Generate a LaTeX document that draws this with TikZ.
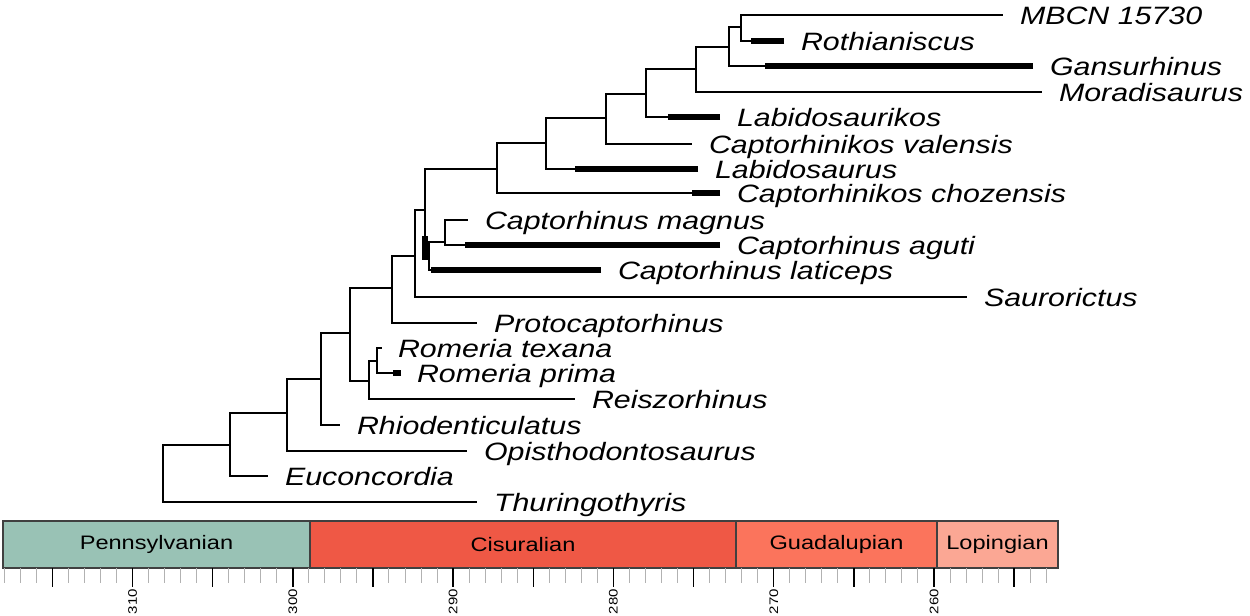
\documentclass[tikz,border=0pt]{standalone}
\usepackage{fontspec}
\setmainfont{Liberation Sans}[FakeStretch=1.21]
\usetikzlibrary{positioning}

\definecolor{penn}{HTML}{99C2B5}
\definecolor{cisu}{HTML}{EF5845}
\definecolor{guad}{HTML}{FB745C}
\definecolor{lopi}{HTML}{FBA794}

\tikzset{
  branch/.style={draw=black, line width=1.15pt},
  strap/.style={draw=black, line width=2.6pt},
  taxon/.style={font=\fontsize{12.55}{14}\selectfont\itshape, inner sep=0,
    text height=9pt, text depth=0pt},
  period/.style={draw=black!75, line width=0.6pt, inner sep=0,
    minimum height=23.5pt, anchor=north west,
    font=\fontsize{9.75}{11}\selectfont},
  minortick/.style={draw=black!30, line width=0.5pt},
  majortick/.style={draw=black, line width=0.7pt},
  ticklabel/.style={font=\fontsize{6.2}{7}\selectfont, inner sep=0,
    text depth=0pt, rotate=90, anchor=east}
}

\begin{document}
\begin{tikzpicture}[x=0.5pt, y=-0.5pt, inner sep=0, outer sep=0]
  \useasboundingbox (0,0) rectangle (1250,616);

  % internal nodes
  \coordinate (root) at (163,474);
  \coordinate (nA) at (230,445);
  \coordinate (nB) at (287,413);
  \coordinate (nC) at (321,379);
  \coordinate (nD) at (350,333);
  \coordinate (nE) at (369,381);
  \coordinate (nF) at (377,361);
  \coordinate (nG) at (392,288);
  \coordinate (nH) at (415,256);
  \coordinate (nI) at (425,210);
  \coordinate (nR) at (429,255);
  \coordinate (nQ) at (445,242);
  \coordinate (nJ) at (497,169);
  \coordinate (nK) at (546,143);
  \coordinate (nL) at (606,118);
  \coordinate (nM) at (646,94);
  \coordinate (nN) at (696,69);
  \coordinate (nO) at (729,47);
  \coordinate (nP) at (741,27);

  % tips
  \coordinate (tMBCN) at (1003,15);
  \coordinate (tRoth) at (784,41);
  \coordinate (tGans) at (1033,66);
  \coordinate (tMora) at (1042,92);
  \coordinate (tLabk) at (720,117);
  \coordinate (tCval) at (692,144);
  \coordinate (tLabs) at (698,169);
  \coordinate (tCchz) at (720,193);
  \coordinate (tCmag) at (468,220);
  \coordinate (tCagu) at (720,245);
  \coordinate (tClat) at (601,270);
  \coordinate (tSaur) at (967,297);
  \coordinate (tProt) at (477,323);
  \coordinate (tRomT) at (382,348);
  \coordinate (tRomP) at (401,373);
  \coordinate (tReis) at (575,399);
  \coordinate (tRhio) at (340,425);
  \coordinate (tOpis) at (467,451);
  \coordinate (tEuco) at (268,476);
  \coordinate (tThur) at (477,502);

  % branches
  \draw[branch] (root) |- (nA);
  \draw[branch] (root) |- (tThur);
  \draw[branch] (nA) |- (nB);
  \draw[branch] (nA) |- (tEuco);
  \draw[branch] (nB) |- (nC);
  \draw[branch] (nB) |- (tOpis);
  \draw[branch] (nC) |- (nD);
  \draw[branch] (nC) |- (tRhio);
  \draw[branch] (nD) |- (nG);
  \draw[branch] (nD) |- (nE);
  \draw[branch] (nE) |- (nF);
  \draw[branch] (nE) |- (tReis);
  \draw[branch] (nF) |- (tRomT);
  \draw[branch] (nF) |- (tRomP);
  \draw[branch] (nG) |- (nH);
  \draw[branch] (nG) |- (tProt);
  \draw[branch] (nH) |- (nI);
  \draw[branch] (nH) |- (tSaur);
  \draw[branch] (nI) |- (nJ);
  \draw[branch] (nI) |- (nR);
  \draw[branch] (nR) |- (nQ);
  \draw[branch] (nR) |- (tClat);
  \draw[branch] (nQ) |- (tCmag);
  \draw[branch] (nQ) |- (tCagu);
  \draw[branch] (nJ) |- (nK);
  \draw[branch] (nJ) |- (tCchz);
  \draw[branch] (nK) |- (nL);
  \draw[branch] (nK) |- (tLabs);
  \draw[branch] (nL) |- (nM);
  \draw[branch] (nL) |- (tCval);
  \draw[branch] (nM) |- (nN);
  \draw[branch] (nM) |- (tLabk);
  \draw[branch] (nN) |- (nO);
  \draw[branch] (nN) |- (tMora);
  \draw[branch] (nO) |- (nP);
  \draw[branch] (nO) |- (tGans);
  \draw[branch] (nP) |- (tMBCN);
  \draw[branch] (nP) |- (tRoth);

  % stratigraphic ranges
  \draw[strap] (tRoth) -- ++(-33,0);
  \draw[strap] (tGans) -- ++(-268,0);
  \draw[strap] (tLabk) -- ++(-52,0);
  \draw[strap] (tLabs) -- ++(-123,0);
  \draw[strap] (tCchz) -- ++(-28,0);
  \draw[strap] (tCagu) -- ++(-255,0);
  \draw[strap] (tClat) -- ++(-170,0);
  \draw[strap] (tRomP) -- ++(-8,0);
  \draw[strap] ([yshift=9.5pt]nR -| nI) -- ([yshift=-2.5pt]nR -| nI);

  % taxon names
  \node[taxon, right=8.5pt of tMBCN] (lMBCN) {MBCN 15730};
  \node[taxon, right=8.5pt of tRoth] (lRoth) {Rothianiscus};
  \node[taxon, right=8.5pt of tGans] (lGans) {Gansurhinus};
  \node[taxon, right=8.5pt of tMora] (lMora) {Moradisaurus};
  \node[taxon, right=8.5pt of tLabk] (lLabk) {Labidosaurikos};
  \node[taxon, right=8.5pt of tCval] (lCval) {Captorhinikos valensis};
  \node[taxon, right=8.5pt of tLabs] (lLabs) {Labidosaurus};
  \node[taxon, right=8.5pt of tCchz] (lCchz) {Captorhinikos chozensis};
  \node[taxon, right=8.5pt of tCmag] (lCmag) {Captorhinus magnus};
  \node[taxon, right=8.5pt of tCagu] (lCagu) {Captorhinus aguti};
  \node[taxon, right=8.5pt of tClat] (lClat) {Captorhinus laticeps};
  \node[taxon, right=8.5pt of tSaur] (lSaur) {Saurorictus};
  \node[taxon, right=8.5pt of tProt] (lProt) {Protocaptorhinus};
  \node[taxon, right=8pt of tRomT] (lRomT) {Romeria texana};
  \node[taxon, right=8pt of tRomP] (lRomP) {Romeria prima};
  \node[taxon, right=8.5pt of tReis] (lReis) {Reiszorhinus};
  \node[taxon, right=8.5pt of tRhio] (lRhio) {Rhiodenticulatus};
  \node[taxon, right=8.5pt of tOpis] (lOpis) {Opisthodontosaurus};
  \node[taxon, right=8.5pt of tEuco] (lEuco) {Euconcordia};
  \node[taxon, right=8.5pt of tThur] (lThur) {Thuringothyris};

  % time scale
  \node[period, fill=penn, minimum width=153.5pt] (penn) at (3,521) {Pennsylvanian};
  \node[period, fill=cisu, minimum width=213pt] (cisu) at (penn.north east) {Cisuralian};
  \node[period, fill=guad, minimum width=100.5pt] (guad) at (cisu.north east) {Guadalupian};
  \node[period, fill=lopi, minimum width=60.5pt] (lopi) at (guad.north east) {Lopingian};

  \foreach \a in {253,...,318}{
    \pgfmathsetmacro\tx{132.5+(310-\a)*16.03}
    \draw[minortick] (\tx,568) -- (\tx,583);
  }
  \foreach \a in {255,260,...,315}{
    \pgfmathsetmacro\tx{132.5+(310-\a)*16.03}
    \draw[majortick] (\tx,568) -- (\tx,587);
  }
  \foreach \a in {260,270,...,310}{
    \pgfmathsetmacro\tx{132.5+(310-\a)*16.03}
    \node[ticklabel] (age\a) at (\tx,589) {\a};
  }
\end{tikzpicture}
\end{document}
